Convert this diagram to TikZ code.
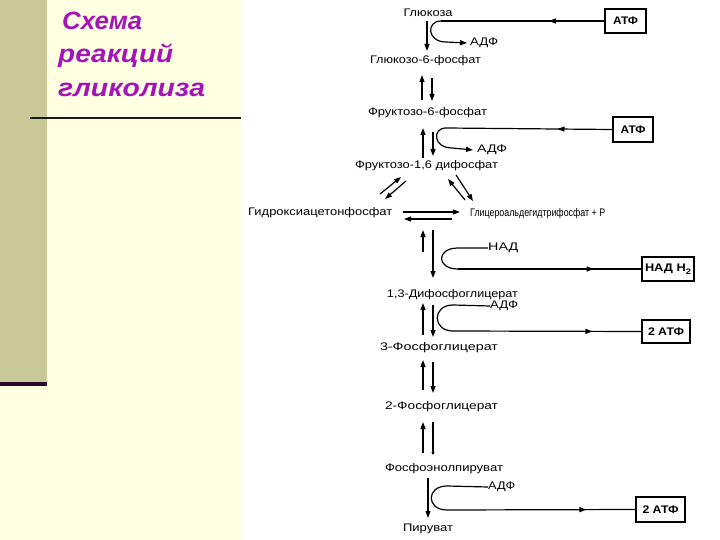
\documentclass[tikz,border=0pt]{standalone}
\usepackage{fontspec}
\usepackage{graphicx}
\setmainfont{Liberation Sans}
\usetikzlibrary{arrows.meta,decorations.markings}
\definecolor{stripc}{RGB}{200,200,152}
\definecolor{creamc}{RGB}{255,255,226}
\definecolor{ttl}{RGB}{165,20,185}
\definecolor{darkl}{RGB}{40,10,40}
\newcommand{\fitw}[2]{\resizebox{#1pt}{\height}{#2}}
\begin{document}
\begin{tikzpicture}[x=1pt,y=-1pt,
  lbl/.style={font=\fontsize{11}{13}\selectfont, inner sep=0pt},
  bx/.style={draw, line width=1.2pt, font=\fontsize{11}{13}\selectfont\bfseries, inner sep=0pt},
  arr/.style={line width=1.2pt, -{Triangle[length=7pt,width=5pt]}},
  ln/.style={line width=1.2pt},
  midarr/.style={postaction=decorate, decoration={markings, mark=at position #1 with {\arrow{Triangle[length=7pt,width=5pt]}}}},
  ttlstyle/.style={anchor=base west, inner sep=0pt, text=ttl, font=\fontsize{25}{29}\selectfont\bfseries\itshape}
]
% background
\fill[white] (0,0) rectangle (720,540);
\fill[creamc] (0,0) rectangle (241,540);
\fill[stripc] (0,0) rectangle (47,383);
\fill[darkl] (0,382) rectangle (47,386);
\draw[line width=2pt, black!90] (30,118) -- (241,118);
% title
\node[ttlstyle] (t1) at (62,30) {\fitw{80}{Схема}};
\node[ttlstyle] (t2) at (58,63) {\fitw{115}{реакций}};
\node[ttlstyle] (t3) at (58,97) {\fitw{147}{гликолиза}};

% metabolites
\node[lbl] (glc) at (428,13) {\fitw{49}{Глюкоза}};
\node[lbl] (g6p) at (425.5,61) {\fitw{111}{Глюкозо-6-фосфат}};
\node[lbl] (f6p) at (427.5,113) {\fitw{119}{Фруктозо-6-фосфат}};
\node[lbl] (f16) at (426.5,166) {\fitw{143}{Фруктозо-1,6 дифосфат}};
\node[lbl, anchor=west] (dhap) at (248,213) {\fitw{144}{Гидроксиацетонфосфат}};
\node[lbl, anchor=west] (gap) at (470,214) {\fitw{135}{Глицероальдегидтрифосфат + Р}};
\node[lbl] (bpg) at (452.5,295) {\fitw{131}{1,3-Дифосфоглицерат}};
\node[lbl] (pg3) at (439,348) {\fitw{118}{3-Фосфоглицерат}};
\node[lbl] (pg2) at (441.5,407) {\fitw{113}{2-Фосфоглицерат}};
\node[lbl] (pep) at (444,469) {\fitw{118}{Фосфоэнолпируват}};
\node[lbl] (pyr) at (428,529) {\fitw{50}{Пируват}};

% boxes
\node[bx, minimum width=41pt, minimum height=24pt] (atp1) at (625.5,21) {\fitw{25}{АТФ}};
\node[bx, minimum width=40pt, minimum height=25pt] (atp2) at (633,129.5) {\fitw{25}{АТФ}};
\node[bx, minimum width=52pt, minimum height=24pt] (nadh) at (668,269) {\fitw{46}{НАД Н\raisebox{-2.5pt}{\fontsize{8}{9}\selectfont 2}}};
\node[bx, minimum width=48pt, minimum height=23pt] (atp3) at (666,331.5) {\fitw{36}{2 АТФ}};
\node[bx, minimum width=49pt, minimum height=25pt] (atp4) at (660.5,509.5) {\fitw{36}{2 АТФ}};

% small labels
\node[lbl, anchor=west] (adp1) at (470,43) {\fitw{28}{АДФ}};
\node[lbl, anchor=west] (adp2) at (477,150) {\fitw{30}{АДФ}};
\node[lbl, anchor=west] (nad) at (488,248) {\fitw{30}{НАД}};
\node[lbl, anchor=west] (adp3) at (490,306) {\fitw{28}{АДФ}};
\node[lbl, anchor=west] (adp4) at (488,487) {\fitw{27}{АДФ}};

% glucose -> G6P with ATP
\draw[arr] (427,21) -- (427,51);
\draw[ln, midarr=0.34] (atp1.west) -- (441,21);
\draw[arr] (441,21) .. controls (426,21) and (427,42) .. (446,42) -- (467,43);

% G6P <-> F6P
\draw[arr] (422,100) -- (422,75);
\draw[arr] (432,78) -- (432,101);

% F6P <-> F16 with ATP
\draw[arr] (423,158) -- (423,128);
\draw[arr] (433,132) -- (433,156);
\draw[ln, midarr=0.33] (atp2.west) -- (446,128);
\draw[arr] (446,128) .. controls (432,128) and (433,148) .. (452,148) -- (473,150);

% F16 -> triose
\draw[arr] (380,194) -- (401,177);
\draw[arr] (406,181) -- (385,199);
\draw[arr] (465,200) -- (448,179);
\draw[arr] (456,175) -- (473,201);
\draw[arr] (403,212) -- (460,212);
\draw[arr] (452,219) -- (404,219);

% GAP <-> BPG with NAD
\draw[arr] (423,252) -- (423,230);
\draw[arr] (433,230) -- (433,278);
\draw[ln] (nad.west) -- (458,248) .. controls (436,248) and (436,269) .. (458,269);
\draw[ln, midarr=0.74] (458,269) -- (nadh.west);

% BPG <-> 3PG with ADP
\draw[arr] (423,335) -- (423,303);
\draw[arr] (433,305) -- (433,337);
\draw[ln] (adp3.west) -- (453,305) .. controls (432,305) and (432,331) .. (453,331);
\draw[ln, midarr=0.74] (453,331) -- (atp3.west);

% 3PG <-> 2PG
\draw[arr] (423,390) -- (423,360);
\draw[arr] (433,362) -- (433,393);

% 2PG <-> PEP
\draw[arr] (423,453) -- (423,422);
\draw[line width=1.2pt, -{Triangle[length=3pt,width=3pt]}] (433,422) -- (433,455);

% PEP -> Pyr with ADP
\draw[arr] (428,478) -- (428,518);
\draw[ln] (adp4.west) -- (447,486) .. controls (426,486) and (426,510) .. (447,510);
\draw[ln, midarr=0.74] (447,510) -- (atp4.west);
\end{tikzpicture}
\end{document}
